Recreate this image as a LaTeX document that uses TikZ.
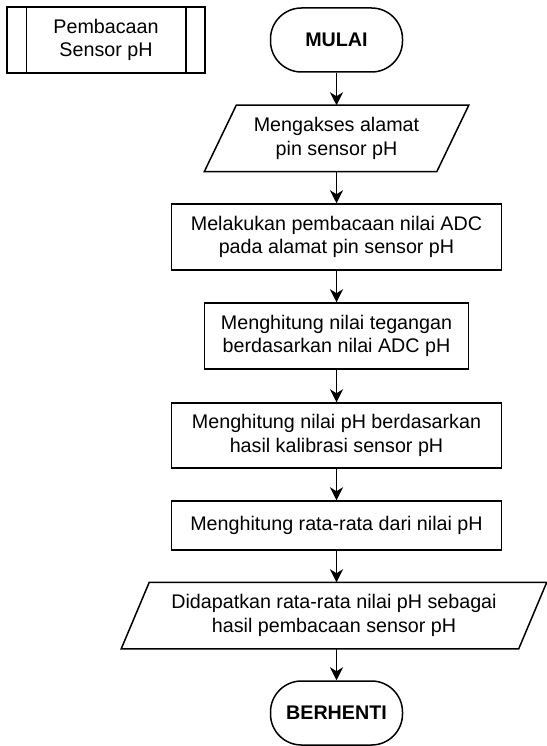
\documentclass[tikz,border=0pt]{standalone}
\usepackage{fontspec}
\setmainfont{Liberation Sans}
\usetikzlibrary{arrows.meta}
\begin{document}
\begin{tikzpicture}[x=1pt,y=-1pt,
  every node/.style={font=\fontsize{19.7}{23.6}\selectfont, align=center, inner sep=0pt, line width=1.5pt},
  procbox/.style={draw, minimum width=#1, minimum height=66},
  termbox/.style={draw, rounded corners=31pt, minimum width=132, minimum height=64, font=\fontsize{19.7}{23.6}\selectfont\bfseries},
  iobox/.style={minimum width=#1, minimum height=65},
  flow/.style={line width=1.5pt, -{Stealth[length=13pt,width=13pt,inset=4pt]}},
  outline/.style={line width=1.5pt, line join=miter}
]
\useasboundingbox (0,0) rectangle (546,746);

% subroutine label box
\node[procbox=198] (sub) at (106,40) {Pembacaan\\Sensor pH};
\draw[outline] ([xshift=20pt]sub.north west) -- ([xshift=20pt]sub.south west);
\draw[outline] ([xshift=-20pt]sub.north east) -- ([xshift=-20pt]sub.south east);

% flow steps
\node[termbox] (start) at (336.5,40) {MULAI};
\node[iobox=231] (in1) at (336.5,138.5) {Mengakses alamat\\pin sensor pH};
\draw[outline] ([xshift=-16pt]in1.south west) -- ([xshift=-16pt]in1.south east)
  -- ([xshift=16pt]in1.north east) -- ([xshift=16pt]in1.north west) -- cycle;
\node[procbox=330] (s1) at (336.5,237) {Melakukan pembacaan nilai ADC\\pada alamat pin sensor pH};
\node[procbox=264] (s2) at (336.5,336) {Menghitung nilai tegangan\\berdasarkan nilai ADC pH};
\node[procbox=330, minimum height=65] (s3) at (336.5,435.5) {Menghitung nilai pH berdasarkan\\hasil kalibrasi sensor pH};
\node[procbox=330, minimum height=49] (s4) at (336.5,525.5) {Menghitung rata-rata dari nilai pH};
\node[iobox=396] (out1) at (334,615.5) {Didapatkan rata-rata nilai pH sebagai\\hasil pembacaan sensor pH};
\draw[outline] ([xshift=-14pt]out1.south west) -- ([xshift=-14pt]out1.south east)
  -- ([xshift=14pt]out1.north east) -- ([xshift=14pt]out1.north west) -- cycle;
\node[termbox] (stop) at (336.5,713) {BERHENTI};

% connectors
\draw[flow] (start.south) -- (in1.north);
\draw[flow] (in1.south) -- (s1.north);
\draw[flow] (s1.south) -- (s2.north);
\draw[flow] (s2.south) -- (s3.north);
\draw[flow] (s3.south) -- (s4.north);
\draw[flow] (s4.south) -- (s4.south |- out1.north);
\draw[flow] (s4.south |- out1.south) -- (stop.north);
\end{tikzpicture}
\end{document}
